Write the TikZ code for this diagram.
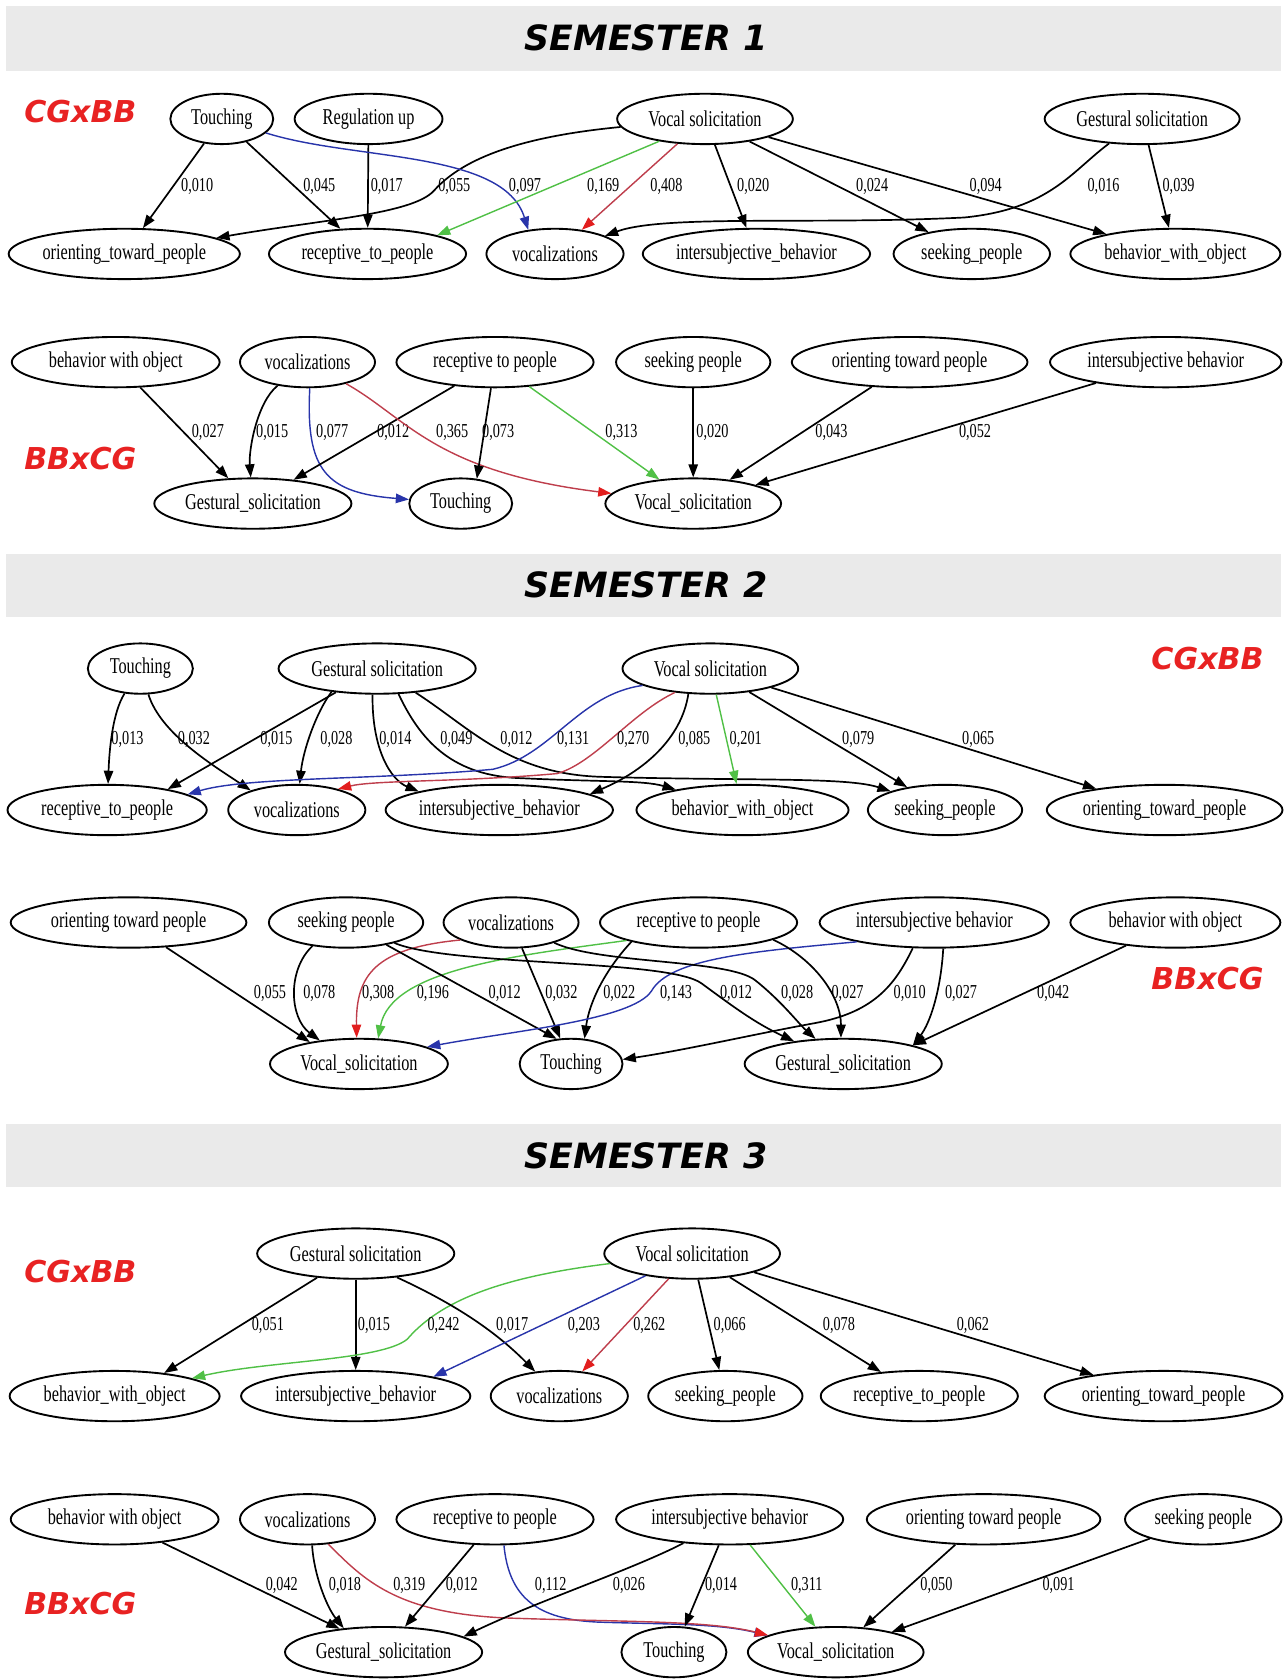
\documentclass[tikz,border=0pt]{standalone}
\usepackage{fontspec}
\usepackage{tikz}
\usetikzlibrary{shapes.geometric,arrows.meta}
\newfontfamily\gvfont[FakeStretch=0.72]{Liberation Serif}
\newfontfamily\hdfont{DejaVu Sans}
\definecolor{bandgray}{RGB}{234,234,234}
\definecolor{tagred}{RGB}{232,34,34}
\definecolor{egreen}{RGB}{80,192,70}
\definecolor{eblue}{RGB}{40,52,170}
\definecolor{ered}{RGB}{190,62,76}
\definecolor{tipred}{RGB}{226,30,30}

\begin{document}
\begin{tikzpicture}[x=0.02cm,y=-0.02cm,
	nd/.style={ellipse, draw, line width=1pt, minimum width=#1*0.02cm, minimum height=0.94cm, inner sep=0pt, font=\gvfont\fontsize{12}{14}\selectfont},
	lbl/.style={inner sep=0pt, text=black, font=\gvfont\fontsize{10.5}{12}\selectfont},
	arr/.style={line width=0.9pt, -{Triangle[length=7pt,width=5pt]}},
	greenarr/.style={arr, line width=0.75pt, egreen},
	bluearr/.style={arr, line width=0.75pt, eblue},
	redarr/.style={line width=0.75pt, ered, -{Triangle[length=7pt,width=5pt,color=tipred]}},
	tag/.style={text=tagred, font=\hdfont\bfseries\itshape\fontsize{16}{18}\selectfont},
	head/.style={font=\hdfont\bfseries\itshape\fontsize{18.5}{20}\selectfont}]
\useasboundingbox (0,0) rectangle (1201,1568);

\fill[bandgray] (6,6) rectangle (1196,66);
\node[head] (t1) at (603,35) {SEMESTER 1};
\fill[bandgray] (6,517) rectangle (1196,576);
\node[head] (t2) at (603,546) {SEMESTER 2};
\fill[bandgray] (6,1049) rectangle (1196,1108);
\node[head] (t3) at (603,1079) {SEMESTER 3};

\node[tag] (g1) at (75,104) {CGxBB};
\node[tag] (g2) at (75,428) {BBxCG};
\node[tag] (g3) at (1127,615) {CGxBB};
\node[tag] (g4) at (1127,913) {BBxCG};
\node[tag] (g5) at (75,1187) {CGxBB};
\node[tag] (g6) at (75,1497) {BBxCG};

\node[nd=96] (aTou) at (207,111) {Touching};
\node[nd=138] (aReg) at (344,111) {Regulation up};
\node[nd=164] (aVoc) at (658,111) {Vocal solicitation};
\node[nd=182] (aGes) at (1066,111) {Gestural solicitation};
\node[nd=212] (aOri) at (116,237) {orienting\_toward\_people};
\node[nd=184] (aRec) at (343,237) {receptive\_to\_people};
\node[nd=128] (aVoz) at (518,237) {vocalizations};
\node[nd=208] (aInt) at (706,237) {intersubjective\_behavior};
\node[nd=146] (aSee) at (907,237) {seeking\_people};
\node[nd=196] (aBeh) at (1097,237) {behavior\_with\_object};

\draw[arr] (aTou) -- (aOri) node[lbl] at (184,174) {0,010};
\draw[arr] (aTou) -- (aRec) node[lbl] at (298,174) {0,045};
\draw[arr] (aReg) -- (aRec) node[lbl] at (361,174) {0,017};
\draw[arr] (aVoc) .. controls (480,128) and (430,150) .. (405,178) .. controls (385,200) and (300,205) .. (aOri) node[lbl] at (424,174) {0,055};
\draw[bluearr] (aTou) .. controls (330,150) and (470,140) .. (aVoz.138) node[lbl] at (490,174) {0,097};
\draw[greenarr] (aVoc.-154) -- (aRec.15) node[lbl] at (563,174) {0,169};
\draw[redarr] (aVoc) -- (aVoz) node[lbl] at (622,174) {0,408};
\draw[arr] (aVoc) -- (aInt) node[lbl] at (703,174) {0,020};
\draw[arr] (aVoc) -- (aSee) node[lbl] at (814,174) {0,024};
\draw[arr] (aVoc) -- (aBeh) node[lbl] at (920,174) {0,094};
\draw[arr] (aGes) .. controls (1000,160) and (980,195) .. (900,203) .. controls (760,210) and (620,200) .. (aVoz) node[lbl] at (1030,174) {0,016};
\draw[arr] (aGes) -- (aBeh) node[lbl] at (1100,174) {0,039};

\node[nd=194] (bBeh) at (108,338) {behavior with object};
\node[nd=126] (bVoz) at (287,338) {vocalizations};
\node[nd=184] (bRec) at (462,338) {receptive to people};
\node[nd=144] (bSee) at (647,338) {seeking people};
\node[nd=220] (bOri) at (849,338) {orienting toward people};
\node[nd=216] (bInt) at (1088,338) {intersubjective behavior};
\node[nd=184] (bGes) at (236,470) {Gestural\_solicitation};
\node[nd=96] (bTou) at (430,470) {Touching};
\node[nd=164] (bVoc) at (647,470) {Vocal\_solicitation};

\draw[arr] (bBeh) -- (bGes) node[lbl] at (194,404) {0,027};
\draw[arr] (bVoz) .. controls (240,375) and (232,420) .. (bGes) node[lbl] at (254,404) {0,015};
\draw[bluearr] (bVoz.-85) .. controls (285,440) and (305,460) .. (bTou) node[lbl] at (310,404) {0,077};
\draw[arr] (bRec) -- (bGes) node[lbl] at (367,404) {0,012};
\draw[redarr] (bVoz) .. controls (380,390) and (405,440) .. (bVoc) node[lbl] at (422,404) {0,365};
\draw[arr] (bRec) -- (bTou.57) node[lbl] at (465,404) {0,073};
\draw[greenarr] (bRec) -- (bVoc) node[lbl] at (580,404) {0,313};
\draw[arr] (bSee) -- (bVoc) node[lbl] at (665,404) {0,020};
\draw[arr] (bOri) -- (bVoc) node[lbl] at (776,404) {0,043};
\draw[arr] (bInt) -- (bVoc) node[lbl] at (910,404) {0,052};

\node[nd=98] (cTou) at (131,624) {Touching};
\node[nd=184] (cGes) at (352,624) {Gestural solicitation};
\node[nd=164] (cVoc) at (663,624) {Vocal solicitation};
\node[nd=186] (cRec) at (100,756) {receptive\_to\_people};
\node[nd=128] (cVoz) at (277,756) {vocalizations};
\node[nd=212] (cInt) at (466,756) {intersubjective\_behavior};
\node[nd=198] (cBeh) at (693,756) {behavior\_with\_object};
\node[nd=144] (cSee) at (882,756) {seeking\_people};
\node[nd=220] (cOri) at (1087,756) {orienting\_toward\_people};

\draw[arr] (cTou) .. controls (105,665) and (102,700) .. (cRec) node[lbl] at (119,690) {0,013};
\draw[arr] (cTou) .. controls (150,685) and (200,715) .. (cVoz.157) node[lbl] at (181,690) {0,032};
\draw[arr] (cGes) -- (cRec.19) node[lbl] at (258,690) {0,015};
\draw[arr] (cGes.-153) .. controls (295,665) and (283,700) .. (cVoz) node[lbl] at (314,690) {0,028};
\draw[arr] (cGes.-100) .. controls (347,700) and (365,728) .. (cInt.167) node[lbl] at (369,690) {0,014};
\draw[arr] (cGes.-50) .. controls (392,690) and (420,722) .. (480,726) .. controls (560,730) and (600,728) .. (cBeh.163) node[lbl] at (426,690) {0,049};
\draw[arr] (cGes.-32) .. controls (440,680) and (475,722) .. (560,725) .. controls (700,729) and (790,725) .. (cSee.161) node[lbl] at (482,690) {0,012};
\draw[bluearr] (cVoc.-166) .. controls (540,648) and (515,705) .. (460,718) .. controls (350,728) and (230,725) .. (cRec.11) node[lbl] at (535,690) {0,131};
\draw[redarr] (cVoc.-146) .. controls (590,665) and (555,712) .. (520,722) .. controls (430,730) and (350,728) .. (cVoz.27) node[lbl] at (591,690) {0,270};
\draw[arr] (cVoc.-131) .. controls (636,690) and (600,720) .. (cInt.10) node[lbl] at (648,690) {0,085};
\draw[greenarr] (cVoc) -- (cBeh) node[lbl] at (696,690) {0,201};
\draw[arr] (cVoc) -- (cSee) node[lbl] at (801,690) {0,079};
\draw[arr] (cVoc) -- (cOri) node[lbl] at (913,690) {0,065};

\node[nd=220] (dOri) at (120,861) {orienting toward people};
\node[nd=144] (dSee) at (323,861) {seeking people};
\node[nd=126] (dVoz) at (477,861) {vocalizations};
\node[nd=184] (dRec) at (652,861) {receptive to people};
\node[nd=214] (dInt) at (872,861) {intersubjective behavior};
\node[nd=196] (dBeh) at (1097,861) {behavior with object};
\node[nd=166] (dVoc) at (335,993) {Vocal\_solicitation};
\node[nd=96] (dTou) at (533,993) {Touching};
\node[nd=184] (dGes) at (787,993) {Gestural\_solicitation};

\draw[arr] (dOri) -- (dVoc.156) node[lbl] at (252,927) {0,055};
\draw[arr] (dSee.-145) .. controls (268,905) and (270,950) .. (dVoc.149) node[lbl] at (298,927) {0,078};
\draw[redarr] (dVoz.-161) .. controls (350,885) and (332,910) .. (dVoc.95) node[lbl] at (353,927) {0,308};
\draw[greenarr] (dRec.-166) .. controls (480,892) and (365,905) .. (dVoc.53) node[lbl] at (404,927) {0,196};
\draw[arr] (dSee) -- (dTou.120) node[lbl] at (471,927) {0,012};
\draw[arr] (dVoz) -- (dTou) node[lbl] at (524,927) {0,032};
\draw[arr] (dRec.-164) .. controls (565,905) and (550,935) .. (dTou.62) node[lbl] at (578,927) {0,022};
\draw[bluearr] (dInt.-166) .. controls (700,888) and (625,895) .. (608,925) .. controls (590,952) and (480,962) .. (dVoc.14) node[lbl] at (631,927) {0,143};
\draw[arr] (dSee) .. controls (420,902) and (625,895) .. (655,918) .. controls (685,940) and (705,955) .. (dGes) node[lbl] at (687,927) {0,012};
\draw[arr] (dVoz) .. controls (560,900) and (680,895) .. (705,915) .. controls (730,935) and (745,955) .. (dGes) node[lbl] at (744,927) {0,028};
\draw[arr] (dRec.-13) .. controls (760,895) and (785,930) .. (dGes.95) node[lbl] at (791,927) {0,027};
\draw[arr] (dInt.-130) .. controls (835,920) and (815,945) .. (760,955) .. controls (705,965) and (640,980) .. (dTou.5) node[lbl] at (849,927) {0,010};
\draw[arr] (dInt.-71) .. controls (878,925) and (868,955) .. (dGes.15) node[lbl] at (897,927) {0,027};
\draw[arr] (dBeh) -- (dGes.15) node[lbl] at (983,927) {0,042};

\node[nd=184] (eGes) at (332,1170) {Gestural solicitation};
\node[nd=164] (eVoc) at (646,1170) {Vocal solicitation};
\node[nd=196] (eBeh) at (107,1303) {behavior\_with\_object};
\node[nd=214] (eInt) at (332,1303) {intersubjective\_behavior};
\node[nd=128] (eVoz) at (522,1303) {vocalizations};
\node[nd=144] (eSee) at (677,1303) {seeking\_people};
\node[nd=184] (eRec) at (858,1303) {receptive\_to\_people};
\node[nd=222] (eOri) at (1086,1303) {orienting\_toward\_people};

\draw[arr] (eGes) -- (eBeh.25) node[lbl] at (250,1237) {0,051};
\draw[arr] (eGes) -- (eInt) node[lbl] at (349,1237) {0,015};
\draw[greenarr] (eVoc) .. controls (465,1192) and (410,1215) .. (380,1250) .. controls (355,1270) and (250,1270) .. (eBeh) node[lbl] at (414,1237) {0,242};
\draw[arr] (eGes.-30) .. controls (420,1215) and (460,1240) .. (eVoz) node[lbl] at (478,1237) {0,017};
\draw[bluearr] (eVoc) -- (eInt.14) node[lbl] at (545,1237) {0,203};
\draw[redarr] (eVoc) -- (eVoz) node[lbl] at (606,1237) {0,262};
\draw[arr] (eVoc) -- (eSee) node[lbl] at (681,1237) {0,066};
\draw[arr] (eVoc) -- (eRec) node[lbl] at (783,1237) {0,078};
\draw[arr] (eVoc) -- (eOri) node[lbl] at (908,1237) {0,062};

\node[nd=194] (fBeh) at (107,1418) {behavior with object};
\node[nd=126] (fVoz) at (287,1418) {vocalizations};
\node[nd=184] (fRec) at (462,1418) {receptive to people};
\node[nd=212] (fInt) at (681,1418) {intersubjective behavior};
\node[nd=218] (fOri) at (918,1418) {orienting toward people};
\node[nd=146] (fSee) at (1123,1418) {seeking people};
\node[nd=184] (fGes) at (358,1542) {Gestural\_solicitation};
\node[nd=98] (fTou) at (629,1542) {Touching};
\node[nd=164] (fVoc) at (780,1542) {Vocal\_solicitation};

\draw[arr] (fBeh) -- (fGes.152) node[lbl] at (263,1480) {0,042};
\draw[arr] (fVoz.-80) .. controls (293,1470) and (305,1500) .. (fGes.149) node[lbl] at (322,1480) {0,018};
\draw[bluearr] (fRec.-71) .. controls (475,1490) and (500,1512) .. (560,1514) .. controls (620,1516) and (670,1515) .. (fVoc) node[lbl] at (514,1480) {0,112};
\draw[redarr] (fVoz.-50) .. controls (340,1475) and (370,1505) .. (470,1510) .. controls (580,1514) and (660,1512) .. (fVoc) node[lbl] at (382,1480) {0,319};
\draw[arr] (fRec) -- (fGes) node[lbl] at (431,1480) {0,012};
\draw[arr] (fInt) .. controls (590,1465) and (500,1495) .. (fGes.11) node[lbl] at (587,1480) {0,026};
\draw[arr] (fInt) -- (fTou) node[lbl] at (673,1480) {0,014};
\draw[greenarr] (fInt) -- (fVoc) node[lbl] at (753,1480) {0,311};
\draw[arr] (fOri) -- (fVoc) node[lbl] at (874,1480) {0,050};
\draw[arr] (fSee) -- (fVoc) node[lbl] at (988,1480) {0,091};
\end{tikzpicture}
\end{document}
